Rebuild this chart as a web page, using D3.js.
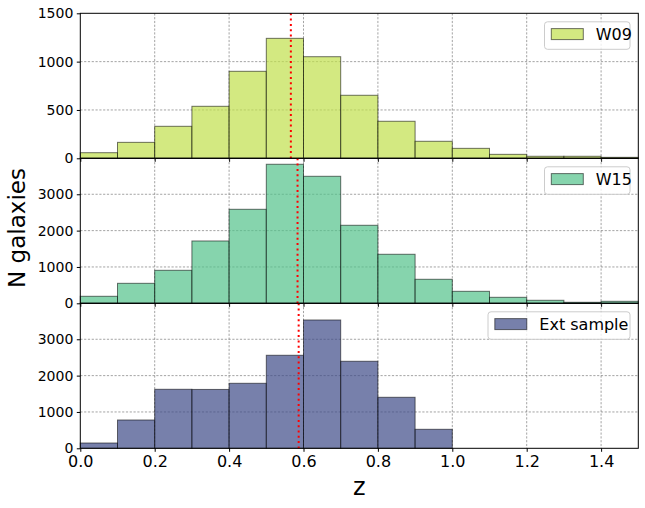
<!DOCTYPE html>
<html><head><meta charset="utf-8">
<script src="https://cdn.jsdelivr.net/npm/d3@7"></script>
<style>body{margin:0;background:#fff;} svg{display:block;font-family:"DejaVu Sans",sans-serif;}</style>
</head><body><svg id="c" width="645" height="508"></svg>
<script>
const binStarts = [0.0,0.1,0.2,0.3,0.4,0.5,0.6,0.7,0.8,0.9,1.0,1.1,1.2,1.3,1.4];
const binWidth = 0.1;
const w09 = [58,165,331,538,900,1241,1051,652,383,176,103,41,21,21,10];
const w15 = [193,550,908,1715,2587,3826,3495,2147,1349,661,330,165,83,28,55];
const ext = [146,779,1624,1620,1789,2560,3531,2395,1404,523,0,0,0,0,0];
const seriesNames = ["W09","W15","Ext sample"];
const medians = [0.566,0.584,0.587];
const yMax = [1500,3990,3990];
const yTicks = [[0,500,1000,1500],[0,1000,2000,3000],[0,1000,2000,3000]];
const xTicks = [0.0,0.2,0.4,0.6,0.8,1.0,1.2,1.4];
const colors = ["#c0e04b","#52c28a","#3d4a88"];
const allSeries = [w09,w15,ext];

const svg = d3.select("#c");
const L = 80.3, R = 638.3, T = 13.3, PH = 145;
const x = d3.scaleLinear().domain([0,1.5]).range([L,R]);

allSeries.forEach((vals,i)=>{
  const top = T + i*PH, bot = top + PH;
  const y = d3.scaleLinear().domain([0,yMax[i]]).range([bot,top]);
  const g = svg.append("g");
  // grid
  g.selectAll("line.gx").data(xTicks.filter(t=>t>0)).join("line")
    .attr("x1",d=>x(d)).attr("x2",d=>x(d)).attr("y1",top).attr("y2",bot)
    .attr("stroke","#666").attr("stroke-width",0.6).attr("stroke-dasharray","2.2,1.6");
  g.selectAll("line.gy").data(yTicks[i].filter(t=>t>0 && t<yMax[i])).join("line")
    .attr("x1",L).attr("x2",R).attr("y1",d=>y(d)).attr("y2",d=>y(d))
    .attr("stroke","#666").attr("stroke-width",0.6).attr("stroke-dasharray","2.2,1.6");
  // bars
  g.selectAll("rect.bar").data(vals.map((v,k)=>({x0:binStarts[k],v}))).join("rect")
    .filter(d=>d.v>0)
    .attr("x",d=>x(d.x0)).attr("width",d=>x(d.x0+binWidth)-x(d.x0))
    .attr("y",d=>y(d.v)).attr("height",d=>y(0)-y(d.v))
    .attr("fill",colors[i]).attr("fill-opacity",0.7)
    .attr("stroke","#000").attr("stroke-opacity",0.55).attr("stroke-width",1);
  // median line
  g.append("line").attr("x1",x(medians[i])).attr("x2",x(medians[i]))
    .attr("y1",top).attr("y2",bot).attr("stroke","red").attr("stroke-width",2)
    .attr("stroke-dasharray","2,3.3");
  // y axis
  const ya = g.append("g").attr("transform",`translate(${L},0)`)
    .call(d3.axisLeft(y).tickValues(yTicks[i]).tickSize(3.5).tickPadding(3.5).tickFormat(d3.format("d")));
  ya.select(".domain").remove();
  ya.selectAll("text").attr("font-size",14).attr("fill","#000").attr("font-family","DejaVu Sans");
  ya.selectAll("line").attr("stroke","#000");
  // x ticks
  const xa = g.append("g").attr("transform",`translate(0,${bot})`)
    .call(d3.axisBottom(x).tickValues(xTicks).tickSize(3.5).tickPadding(3.5).tickFormat(i===2?d3.format(".1f"):""));
  xa.select(".domain").remove();
  xa.selectAll("text").attr("font-size",16).attr("fill","#000").attr("font-family","DejaVu Sans");
  xa.selectAll("line").attr("stroke","#000");
  // frame
  g.append("rect").attr("x",L).attr("y",top).attr("width",R-L).attr("height",PH)
    .attr("fill","none").attr("stroke","#000").attr("stroke-width",1);
  // legend
  const name = seriesNames[i];
  const tw = name.length>3 ? 88.5 : 32;
  const bx1 = 630, bx0 = bx1 - (tw + 53.5);
  const lg = g.append("g");
  lg.append("rect").attr("x",bx0).attr("y",top+8.5).attr("width",bx1-bx0).attr("height",27.5)
    .attr("rx",3).attr("fill","#fff").attr("fill-opacity",0.8).attr("stroke","#ccc").attr("stroke-width",1);
  lg.append("rect").attr("x",bx0+6.8).attr("y",top+15.3).attr("width",32).attr("height",11)
    .attr("fill",colors[i]).attr("fill-opacity",0.7).attr("stroke","#000").attr("stroke-opacity",0.55);
  lg.append("text").attr("x",bx0+51.3).attr("y",top+26.5).attr("font-size",16).attr("fill","#000").text(name);
});

svg.append("text").attr("transform","translate(25,228) rotate(-90)")
  .attr("text-anchor","middle").attr("font-size",23).attr("fill","#000").text("N galaxies");
svg.append("text").attr("x",(L+R)/2).attr("y",495).attr("text-anchor","middle")
  .attr("font-size",24).attr("fill","#000").text("z");
</script></body></html>
